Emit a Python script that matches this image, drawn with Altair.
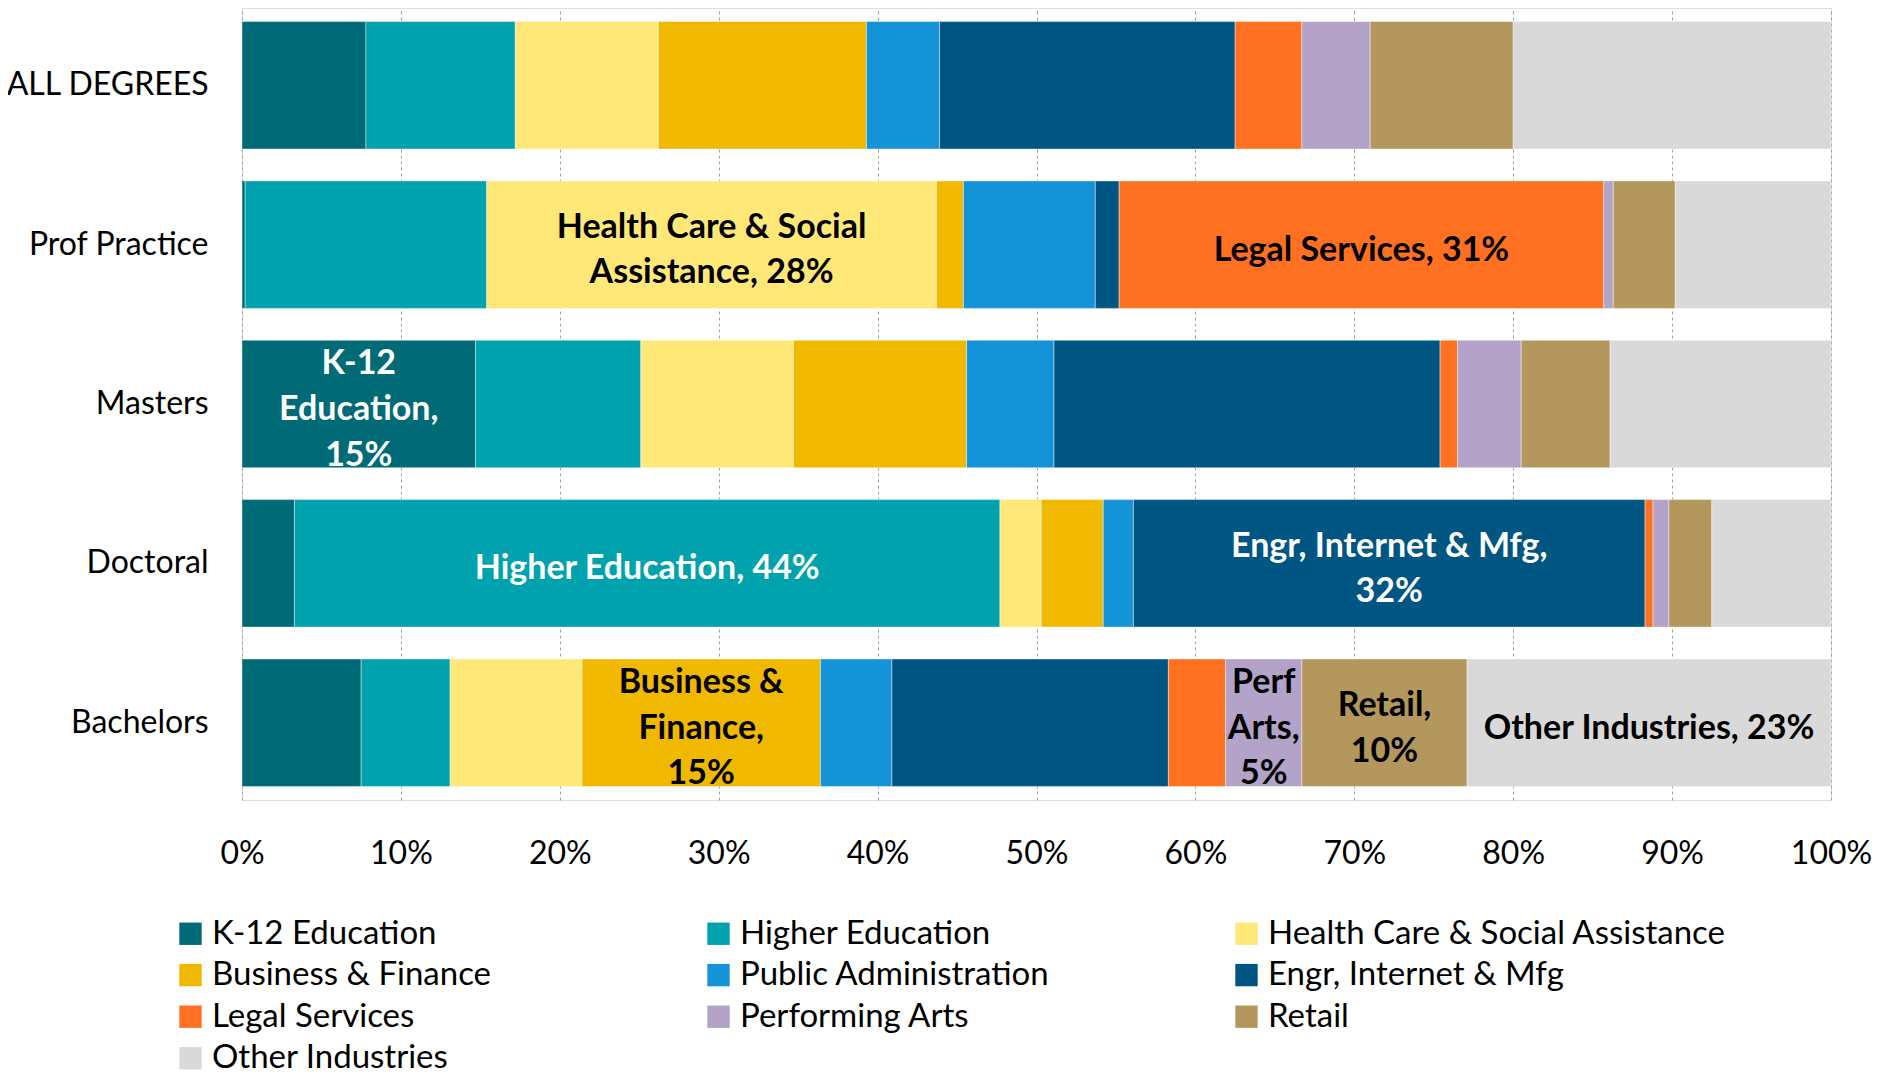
import altair as alt
import pandas as pd

degrees = ["ALL DEGREES", "Prof Practice", "Masters", "Doctoral", "Bachelors"]
industries = [
    "K-12 Education", "Higher Education", "Health Care & Social Assistance",
    "Business & Finance", "Public Administration", "Engr, Internet & Mfg",
    "Legal Services", "Performing Arts", "Retail", "Other Industries",
]
colors = [
    "#006B77", "#00A3AD", "#FFE878", "#F1B800", "#1593D8",
    "#005682", "#FF7020", "#B3A3C8", "#B3975D", "#D9D9D9",
]

# percent share of each industry, per degree
all_degrees = [7.8, 9.4, 9.0, 13.1, 4.6, 18.6, 4.2, 4.3, 9.0, 20.0]
prof_practice = [0.2, 15.2, 28.3, 1.7, 8.3, 1.5, 30.5, 0.6, 3.9, 9.8]
masters = [14.7, 10.4, 9.6, 10.9, 5.5, 24.3, 1.1, 4.0, 5.6, 13.9]
doctoral = [3.3, 44.4, 2.6, 3.9, 1.9, 32.2, 0.5, 1.0, 2.7, 7.5]
bachelors = [7.5, 5.6, 8.3, 15.0, 4.5, 17.4, 3.6, 4.8, 10.4, 22.9]

# in-bar labels: (degree, industry, lines, text colour)
bar_labels = [
    ("Prof Practice", "Health Care & Social Assistance", ["Health Care & Social", "Assistance, 28%"], "black"),
    ("Prof Practice", "Legal Services", ["Legal Services, 31%"], "black"),
    ("Masters", "K-12 Education", ["K-12", "Education,", "15%"], "white"),
    ("Doctoral", "Higher Education", ["Higher Education, 44%"], "white"),
    ("Doctoral", "Engr, Internet & Mfg", ["Engr, Internet & Mfg,", "32%"], "white"),
    ("Bachelors", "Business & Finance", ["Business &", "Finance,", "15%"], "black"),
    ("Bachelors", "Performing Arts", ["Perf", "Arts,", "5%"], "black"),
    ("Bachelors", "Retail", ["Retail,", "10%"], "black"),
    ("Bachelors", "Other Industries", ["Other Industries, 23%"], "black"),
]

series = {
    "ALL DEGREES": all_degrees,
    "Prof Practice": prof_practice,
    "Masters": masters,
    "Doctoral": doctoral,
    "Bachelors": bachelors,
}
lab = {(d, i): (t, c) for d, i, t, c in bar_labels}
rows = []
for d in degrees:
    for k, ind in enumerate(industries):
        t, c = lab.get((d, ind), (None, None))
        rows.append({"degree": d, "industry": ind, "idx": k,
                     "value": series[d][k], "label": t, "tc": c,
                     "nlines": len(t) if t else 0})
df = pd.DataFrame(rows)

FONT = "Lato"
LH = 45.6

y_enc = alt.Y("degree:N", sort=degrees,
              scale=alt.Scale(paddingInner=0.2, paddingOuter=0.085),
              axis=alt.Axis(title=None, labelFontSize=32, labelColor="black",
                            labelFont=FONT, labelPadding=34, ticks=False,
                            domain=False, grid=False, labelLimit=400))

x_scale = alt.Scale(domain=[0, 100], nice=False)

bars = alt.Chart(df).mark_bar(stroke="white", strokeWidth=0.6, strokeOpacity=0.7).encode(
    y=y_enc,
    x=alt.X("value:Q", stack="zero", scale=x_scale,
            axis=alt.Axis(title=None, values=list(range(0, 101, 10)),
                          labelExpr="datum.value + '%'", labelFontSize=32,
                          labelFont=FONT, labelColor="black", labelPadding=38,
                          labelFlush=False, ticks=False, domain=False, grid=True,
                          gridColor="#A0A0A0", gridDash=[3, 3], gridWidth=1)),
    color=alt.Color("industry:N",
                    scale=alt.Scale(domain=industries, range=colors),
                    legend=alt.Legend(orient="none", legendX=-68, legendY=909,
                                      direction="horizontal",
                                      columns=3, gridAlign="all",
                                      columnPadding=31, rowPadding=7.6,
                                      symbolType="square", symbolSize=500,
                                      symbolStrokeWidth=0, labelFontSize=33,
                                      labelFont=FONT, labelColor="black",
                                      labelLimit=800, labelOffset=5,
                                      title=None, padding=0)),
    order=alt.Order("idx:Q"),
)

base_text = alt.Chart(df).transform_stack(
    stack="value", groupby=["degree"], sort=[alt.SortField("idx")], as_=["x0", "x1"]
).transform_calculate(
    mid="(datum.x0 + datum.x1) / 2"
)

text_layers = []
for n in (1, 2, 3):
    text_layers.append(
        base_text.transform_filter(f"datum.nlines == {n}").mark_text(
            font=FONT, fontSize=34, fontWeight="bold", lineHeight=LH,
            align="center", baseline="middle", dy=-(n - 1) * LH / 2 + 6,
        ).encode(
            y=alt.Y("degree:N", sort=degrees),
            x=alt.X("mid:Q", scale=x_scale),
            text="label",
            color=alt.Color("tc:N", scale=None),
        )
    )

chart = alt.layer(bars, *text_layers).properties(
    width=1589, height=792,
    autosize=alt.AutoSizeParams(type="none"),
    padding={"left": 234, "top": 0, "right": 42, "bottom": 275},
).configure_view(strokeWidth=0).configure(font=FONT)

chart.save("out.html", embed_options={"renderer": "svg", "actions": False})
